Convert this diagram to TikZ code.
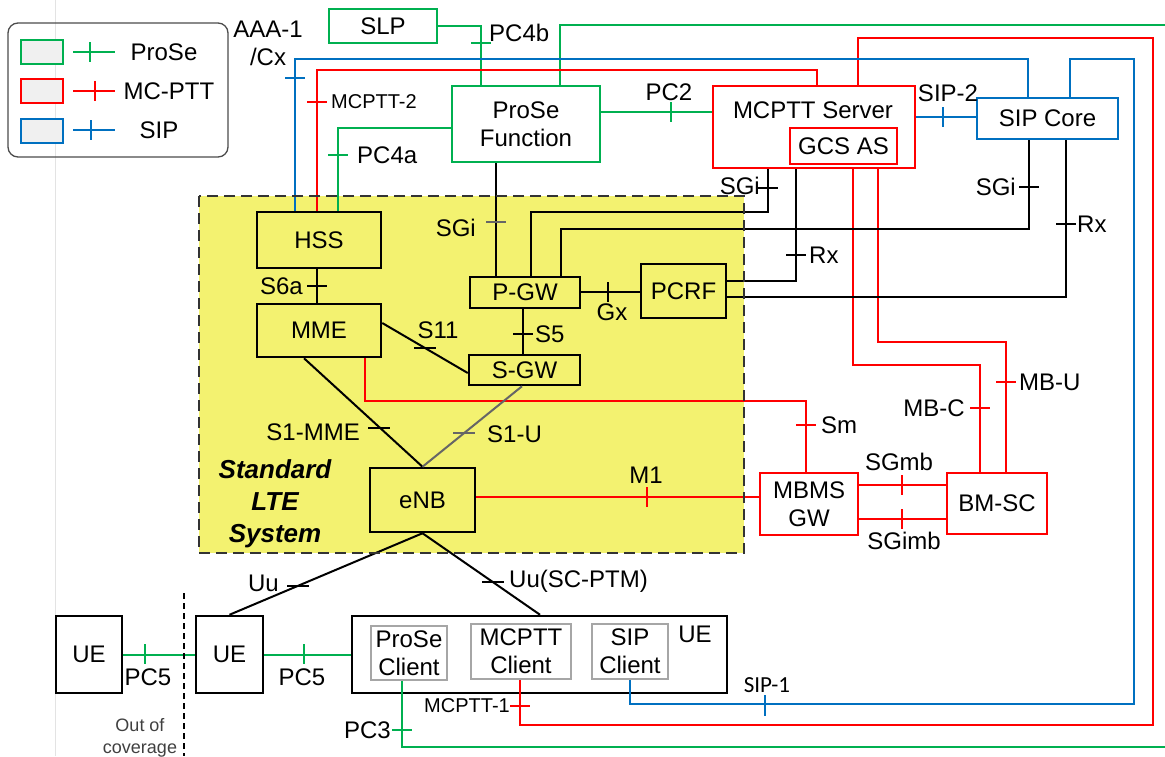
\documentclass[tikz,border=0pt]{standalone}
\usepackage{fontspec}
\setmainfont{Liberation Sans}
\newfontfamily\calfont{Carlito}
\definecolor{pgreen}{RGB}{0,176,80}
\definecolor{pred}{RGB}{255,0,0}
\definecolor{pblue}{RGB}{0,112,192}
\definecolor{ltey}{RGB}{243,242,112}
\newcommand\tickh[3]{\draw[#1] (#2-10,#3) -- (#2+10,#3);}
\newcommand\tickv[3]{\draw[#1] (#2,#3-10) -- (#2,#3+10);}
\begin{document}
\begin{tikzpicture}[x=1pt,y=-1pt,
  font=\fontsize{24}{28}\selectfont,
  kbox/.style={draw=black,line width=2.5pt,inner sep=0pt,align=center},
  gbox/.style={draw=pgreen,line width=2.2pt,inner sep=0pt,align=center},
  rbox/.style={draw=pred,line width=2.2pt,inner sep=0pt,align=center},
  bbox/.style={draw=pblue,line width=2.2pt,inner sep=0pt,align=center},
  cbox/.style={draw=gray!70,line width=1.5pt,inner sep=0pt,align=center},
  lbox/.style={line width=2pt,fill=gray!12,inner sep=0pt,minimum width=42,minimum height=24},
  gl/.style={draw=pgreen,line width=2pt},
  rl/.style={draw=pred,line width=2pt},
  bl/.style={draw=pblue,line width=2pt},
  kl/.style={draw=black,line width=2pt},
  gk/.style={draw=gray!80!black,line width=2pt},
  lab/.style={inner sep=0pt,align=center},
  slab/.style={inner sep=0pt,align=center,font=\fontsize{20}{24}\selectfont},
]
\useasboundingbox (0,0) rectangle (1165,756);
% faint page line
\draw[gray!22,line width=1pt] (55,0) -- (55,756);

% legend
\draw[gray!60!black,line width=1.3pt,rounded corners=10pt] (8,23) rectangle (228,157);
\node[lbox,draw=pgreen] (leg1) at (42,52) {};
\node[lbox,draw=pred] (leg2) at (42,91) {};
\node[lbox,draw=pblue] (leg3) at (42,130.5) {};
\coordinate (lg1a) at (73,52); \coordinate (lg1b) at (115,52);
\coordinate (lg2a) at (73,91); \coordinate (lg2b) at (115,91);
\coordinate (lg3a) at (73,130); \coordinate (lg3b) at (115,130);
\draw[gl] (lg1a) -- (lg1b); \tickv{gl}{90}{52}
\draw[rl] (lg2a) -- (lg2b); \tickv{rl}{95}{91}
\draw[bl] (lg3a) -- (lg3b); \tickv{bl}{91}{130}
\node[lab] (lt1) at (164,52) {ProSe};
\node[lab] (lt2) at (169,91) {MC-PTT};
\node[lab] (lt3) at (159,130) {SIP};

% LTE system area
\fill[ltey] (199,196) rectangle (744,553);

% nodes
\node[gbox,minimum width=108,minimum height=34] (slp) at (383,26) {SLP};
\node[gbox,minimum width=148,minimum height=76] (prosef) at (526,124) {ProSe\\Function};
\node[rbox,minimum width=202,minimum height=82] (mcptt) at (814,127) {};
\node[lab] (mcpttlbl) at (813,110) {MCPTT Server};
\node[rbox,minimum width=107,minimum height=36] (gcs) at (843.5,146) {GCS AS};
\node[bbox,minimum width=141,minimum height=41] (sipcore) at (1047.5,118.5) {SIP Core};
\node[kbox,minimum width=124,minimum height=56] (hss) at (319,240) {HSS};
\node[kbox,minimum width=124,minimum height=53] (mme) at (319,330.5) {MME};
\node[kbox,minimum width=110,minimum height=31] (pgw) at (525,292.5) {P-GW};
\node[kbox,minimum width=111,minimum height=30] (sgw) at (524.5,370) {S-GW};
\node[kbox,minimum width=85,minimum height=54] (pcrf) at (683.5,291) {PCRF};
\node[kbox,minimum width=105,minimum height=64] (enb) at (422.5,500) {eNB};
\node[rbox,minimum width=98,minimum height=62] (mbms) at (809,504) {MBMS\\GW};
\node[rbox,minimum width=100,minimum height=61] (bmsc) at (997,503.5) {BM-SC};
\node[kbox,minimum width=66,minimum height=77] (ue1) at (89,654.5) {UE};
\node[kbox,minimum width=67,minimum height=77] (ue2) at (229.5,654.5) {UE};
\node[kbox,minimum width=375,minimum height=77] (uebig) at (539.5,654.5) {};
\node[lab] (uelbl) at (695,634) {UE};
\node[cbox,minimum width=76,minimum height=54] (prosec) at (409,653) {ProSe\\Client};
\node[cbox,minimum width=100,minimum height=55] (mcpttc) at (521,651.5) {MCPTT\\Client};
\node[cbox,minimum width=76,minimum height=55] (sipc) at (630,651.5) {SIP\\Client};

\coordinate (gtop) at (1165,25);
\coordinate (gbot) at (1165,747);

% ---- green connectors
\draw[gl] (slp.east) -| (prosef.north -| 481,0);
\draw[gl] (prosef.north -| 560,0) |- (gtop);
\draw[gl] (hss.north -| 338,0) |- (prosef.west |- 0,128);
\draw[gl] (prosef.east |- 0,112) -- (mcptt.west |- 0,112);
\draw[gl] (ue1.east) -- (ue2.west);
\draw[gl] (ue2.east) -- (uebig.west);
\draw[gl] (prosec.south -| 402,0) |- (gbot);
\tickh{gl}{481}{43} \tickh{gl}{338}{155} \tickv{gl}{671}{112}
\tickv{gl}{145}{654} \tickv{gl}{304}{654} \tickh{gl}{402}{730}

% ---- red connectors
\draw[rl] (hss.north -| 317,0) |- (817,70) -- (mcptt.north -| 817,0);
\draw[rl] (mcptt.north -| 858,0) |- (1153,38) |- (520,725) -- (mcpttc.south -| 520,0);
\draw[rl] (mme.south -| 365,0) |- (806,401) -- (mbms.north -| 806,0);
\draw[rl] (enb.east |- 0,497) -- (mbms.west |- 0,497);
\draw[rl] (mbms.east |- 0,485) -- (bmsc.west |- 0,485);
\draw[rl] (mbms.east |- 0,519) -- (bmsc.west |- 0,519);
\draw[rl] (mcptt.south -| 853,0) |- (980,365) -- (bmsc.north -| 980,0);
\draw[rl] (mcptt.south -| 878,0) |- (1006,342) -- (bmsc.north -| 1006,0);
\tickh{rl}{317}{102} \tickh{rl}{520}{706} \tickh{rl}{806}{425}
\tickv{rl}{647}{497} \tickv{rl}{902}{485} \tickv{rl}{902}{519}
\tickh{rl}{980}{408} \tickh{rl}{1006}{382}

% ---- blue connectors
\draw[bl] (hss.north -| 295,0) |- (1028,59) -- (sipcore.north -| 1028,0);
\draw[bl] (mcptt.east |- 0,117) -- (sipcore.west |- 0,117);
\draw[bl] (sipcore.north -| 1070,0) |- (1134,59) |- (630,704) -- (sipc.south -| 630,0);
\tickh{bl}{295}{78} \tickv{bl}{943}{117}
\draw[bl] (765,695) -- (765,716);

% ---- black connectors
\draw[kl] (hss.south -| 317,0) -- (mme.north -| 317,0);
\draw[kl] (mme.east |- 0,323) -- (sgw.west |- 0,373);
\draw[kl] (mme.south -| 304,0) -- (enb.north);
\draw[gk] (sgw.south -| 522,0) -- (enb.north);
\draw[kl] (pgw.south -| 523,0) -- (sgw.north -| 523,0);
\draw[kl] (prosef.south -| 496,0) -- (pgw.north -| 496,0);
\draw[kl] (pgw.north -| 531,0) |- (768,212) -- (mcptt.south -| 768,0);
\draw[kl] (pgw.north -| 561,0) |- (1029,229) -- (sipcore.south -| 1029,0);
\draw[kl] (pgw.east |- 0,292) -- (pcrf.west |- 0,292);
\draw[kl] (pcrf.east |- 0,281) -| (mcptt.south -| 796,0);
\draw[kl] (pcrf.east |- 0,297) -| (sipcore.south -| 1066,0);
\draw[kl] (enb.south) -- (ue2.north);
\draw[kl] (enb.south) -- (uebig.north -| 540,0);
\tickh{kl}{317}{286}
\tickh{kl}{523}{334}
\draw[kl] (414,348) -- (436,348);
\draw[kl] (368,428) -- (390,428);
\draw[gk] (453,433) -- (475,433);
\tickh{gk}{496}{222}
\tickh{kl}{768}{188} \tickh{kl}{1029}{187}
\tickv{kl}{608}{292}
\tickh{kl}{796}{255} \tickh{kl}{1066}{224}
\draw[kl] (287,586) -- (309,586);
\draw[kl] (482,582) -- (504,582);

% dashed border of LTE area
\draw[black!80,line width=2pt,dash pattern=on 11pt off 6pt] (199,196) rectangle (744,553);
\node[lab,font=\fontsize{26}{32}\selectfont\bfseries\itshape] (ltelbl) at (275,504) {Standard\\LTE\\System};

% out of coverage divider
\draw[black,line width=1.5pt,dash pattern=on 6pt off 4pt] (184,593) -- (184,756);
\node[lab,font=\fontsize{18}{22}\selectfont,text=black!75] (ooc) at (140,738) {Out of\\coverage};

% ---- labels
\node[lab,anchor=west] (l1) at (489,33) {PC4b};
\node[lab] (l2) at (268,43) {AAA-1\\/Cx};
\node[slab,anchor=west] (l3) at (331,102) {MCPTT-2};
\node[lab,anchor=west] (l4) at (357,155) {PC4a};
\node[lab] (l5) at (669,92) {PC2};
\node[lab] (l6) at (948,93) {SIP-2};
\node[lab,anchor=east] (l7) at (760,186) {SGi};
\node[lab,anchor=east] (l8) at (1016,187) {SGi};
\node[lab,anchor=east] (l9) at (476,228) {SGi};
\node[lab,anchor=west] (l10) at (809,255) {Rx};
\node[lab,anchor=west] (l11) at (1077,224) {Rx};
\node[lab,anchor=east] (l12) at (303,286) {S6a};
\node[lab] (l13) at (612,312) {Gx};
\node[lab,anchor=west] (l14) at (535,334) {S5};
\node[lab] (l15) at (438,330) {S11};
\node[lab,anchor=east] (l16) at (360,432) {S1-MME};
\node[lab,anchor=west] (l17) at (487,434) {S1-U};
\node[lab] (l18) at (646,475) {M1};
\node[lab,anchor=west] (l19) at (821,425) {Sm};
\node[lab,anchor=east] (l20) at (965,408) {MB-C};
\node[lab,anchor=west] (l21) at (1019,382) {MB-U};
\node[lab] (l22) at (899,462) {SGmb};
\node[lab] (l23) at (904,541) {SGimb};
\node[lab,anchor=east] (l24) at (279,583) {Uu};
\node[lab,anchor=west] (l25) at (509,581) {Uu(SC-PTM)};
\node[lab] (l26) at (148,677) {PC5};
\node[lab] (l27) at (302,677) {PC5};
\node[slab,anchor=east] (l28) at (510,706) {MCPTT-1};
\node[lab,anchor=east] (l29) at (391,730) {PC3};
\node[lab,font=\calfont\fontsize{23}{26}\selectfont] (l30) at (767,685) {SIP-1};
\end{tikzpicture}
\end{document}
